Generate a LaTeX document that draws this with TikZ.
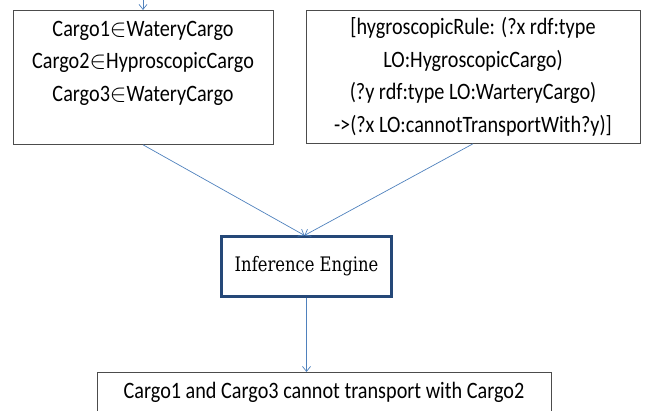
\documentclass[tikz,border=0pt]{standalone}
\usepackage{amsmath}
\usepackage{amssymb}
\usepackage{fontspec}
\setmainfont[FakeStretch=0.86]{Carlito}
\newfontfamily\enginefont[FakeStretch=0.82]{DejaVu Serif}
\usepackage{tikz}
\usetikzlibrary{arrows.meta}
\definecolor{linkblue}{RGB}{79,129,189}
\definecolor{engineblue}{RGB}{37,72,120}

\begin{document}
\begin{tikzpicture}[x=1pt, y=-1pt, font=\fontsize{23.5}{32.5}\selectfont,
  every node/.style={rectangle, draw=black!70, line width=.8pt, align=center, inner sep=0pt},
  link/.style={draw=linkblue, line width=.7pt, -{Straight Barb[length=5pt, width=8pt]}}]
  \useasboundingbox (0,0) rectangle (648,411);
  \clip (0,0) rectangle (648,411);
  \node (facts) [anchor=north, minimum width=260, minimum height=134] at (143,10)
    {Cargo1$\in$WateryCargo\\Cargo2$\in$HyproscopicCargo\\Cargo3$\in$WateryCargo\\\mbox{}};
  \node (rule) [anchor=north, minimum width=334, minimum height=133] at (473,10)
    {[hygroscopicRule: (?x rdf:type\\LO:HygroscopicCargo)\\(?y rdf:type LO:WarteryCargo)\\->(?x LO:cannotTransportWith?y)]};
  \node (engine) [draw=engineblue, line width=2.2pt, minimum width=170, minimum height=60,
    font=\enginefont\fontsize{20}{24}\selectfont] at (306.5,266.5) {Inference Engine};
  \node (result) [anchor=north, minimum width=454, minimum height=40] at (324,372)
    {Cargo1 and Cargo3 cannot transport with Cargo2};
  \coordinate (in) at (143,0);
  \draw [link] (in) -- (facts.north);
  \draw [link] (facts.south) -- ([xshift=-2]engine.north);
  \draw [link] (rule.south) -- ([xshift=-2]engine.north);
  \draw [link] (engine.south) -- (engine.south |- result.north);
\end{tikzpicture}
\end{document}
